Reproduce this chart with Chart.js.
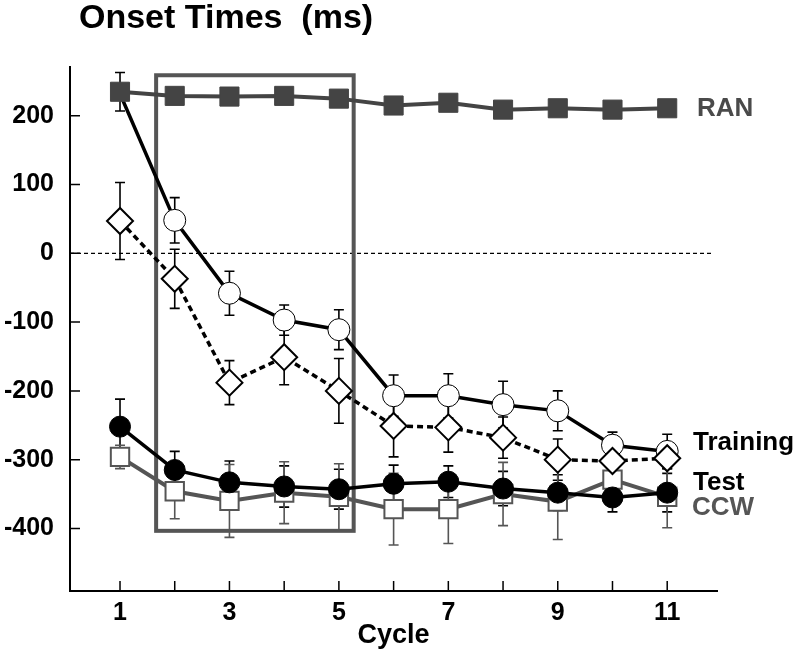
<!DOCTYPE html>
<html>
<head>
<meta charset="utf-8">
<script src="https://cdn.jsdelivr.net/npm/chart.js@4.4.0/dist/chart.umd.min.js"></script>
<style>
  body { margin: 0; background: #fff; }
  #wrap { width: 802px; height: 653px; }
</style>
</head>
<body>
<div id="wrap"><canvas id="onsetChart"></canvas></div>
<script>
Chart.defaults.font.family = "'Liberation Sans', Arial, sans-serif";
Chart.defaults.color = "#000";

const cycles = [1, 2, 3, 4, 5, 6, 7, 8, 9, 10, 11];
const yTicks = [-400, -300, -200, -100, 0, 100, 200];

const ran = [235, 229, 228, 229, 225, 215, 219, 209, 211, 209, 211];
const ranErr = [28, 0, 0, 0, 0, 0, 0, 0, 0, 0, 0];
const training = [232, 48, -58, -97, -111, -207, -207, -220, -229, -279, -288];
const trainingErr = [0, 33, 32, 22, 29, 30, 32, 34, 29, 19, 25];
const trainingB = [47, -37, -188, -151, -200, -251, -253, -268, -300, -302, -298];
const trainingBErr = [56, 43, 32, 40, 47, 45, 36, 30, 30, 12, 15];
const test = [-252, -315, -333, -339, -343, -335, -332, -342, -348, -355, -348];
const testErr = [40, 27, 31, 30, 29, 27, 23, 25, 26, 21, 28];
const ccw = [-296, -346, -360, -348, -354, -372, -372, -350, -361, -329, -354];
const ccwErr = [17, 40, 53, 45, 48, 52, 50, 46, 55, 22, 45];

// highlighted block of cycles (data units)
const boxX = [1.66, 5.27];
const boxY = [-403.5, 259];

function pts(arr) {
    return cycles.map((c, i) => ({x: c, y: arr[i]}));
}

const extras = {
    id: "extras",
    beforeDatasetsDraw(chart) {
        const ctx = chart.ctx;
        const xs = chart.scales.x, ys = chart.scales.y;
        const area = chart.chartArea;
        ctx.save();

        // zero line
        ctx.strokeStyle = "#000";
        ctx.lineWidth = 1.2;
        ctx.setLineDash([4, 3]);
        ctx.beginPath();
        ctx.moveTo(area.left, ys.getPixelForValue(0));
        ctx.lineTo(area.right - 4, ys.getPixelForValue(0));
        ctx.stroke();
        ctx.setLineDash([]);

        // box
        ctx.strokeStyle = "#555";
        ctx.lineWidth = 4;
        const bl = xs.getPixelForValue(boxX[0]), br = xs.getPixelForValue(boxX[1]);
        const bt = ys.getPixelForValue(boxY[1]), bb = ys.getPixelForValue(boxY[0]);
        ctx.strokeRect(bl, bt, br - bl, bb - bt);

        // error bars
        chart.data.datasets.forEach(ds => {
            if (!ds.err) return;
            ctx.strokeStyle = ds.errColor;
            ctx.lineWidth = 1.6;
            ds.data.forEach((p, i) => {
                const e = ds.err[i];
                if (!e) return;
                const px = xs.getPixelForValue(p.x);
                const top = ys.getPixelForValue(p.y + e);
                const bot = ys.getPixelForValue(p.y - e);
                ctx.beginPath();
                ctx.moveTo(px, top); ctx.lineTo(px, bot);
                ctx.moveTo(px - 5, top); ctx.lineTo(px + 5, top);
                ctx.moveTo(px - 5, bot); ctx.lineTo(px + 5, bot);
                ctx.stroke();
            });
        });
        ctx.restore();
    },
    afterDraw(chart) {
        const ctx = chart.ctx;
        const xs = chart.scales.x, ys = chart.scales.y;
        const area = chart.chartArea;
        ctx.save();

        // inward ticks
        ctx.strokeStyle = "#000";
        ctx.lineWidth = 1.5;
        ctx.beginPath();
        cycles.forEach(c => {
            const px = xs.getPixelForValue(c);
            ctx.moveTo(px, area.bottom);
            ctx.lineTo(px, area.bottom - 10);
        });
        yTicks.forEach(v => {
            const py = ys.getPixelForValue(v);
            ctx.moveTo(area.left, py);
            ctx.lineTo(area.left + 10, py);
        });
        ctx.stroke();

        // title
        ctx.fillStyle = "#000";
        ctx.textBaseline = "middle";
        ctx.textAlign = "left";
        ctx.font = "bold 34px 'Liberation Sans', Arial, sans-serif";
        ctx.fillText("Onset Times  (ms)", 79, 19);

        // series labels
        ctx.font = "bold 26px 'Liberation Sans', Arial, sans-serif";
        ctx.fillStyle = "#4a4a4a";
        ctx.fillText("RAN", 697, 109);
        ctx.fillStyle = "#000";
        ctx.fillText("Training", 693, 443);
        ctx.fillText("Test", 693, 483);
        ctx.fillStyle = "#555";
        ctx.fillText("CCW", 692, 508);
        ctx.restore();
    }
};

new Chart(document.getElementById("onsetChart"), {
    type: "line",
    data: {
        datasets: [
            {
                label: "RAN",
                data: pts(ran),
                err: ranErr,
                errColor: "#000",
                borderColor: "#444",
                borderWidth: 4,
                pointStyle: "rect",
                pointRadius: 13.5,
                pointBackgroundColor: "#444",
                pointBorderColor: "#444",
                pointBorderWidth: 1
            },
            {
                label: "Training B",
                data: pts(trainingB),
                err: trainingBErr,
                errColor: "#000",
                borderColor: "#000",
                borderWidth: 3.5,
                borderDash: [6, 4],
                pointStyle: "rectRot",
                pointRadius: 13,
                pointBackgroundColor: "#fff",
                pointBorderColor: "#000",
                pointBorderWidth: 2
            },
            {
                label: "Training",
                data: pts(training),
                err: trainingErr,
                errColor: "#000",
                borderColor: "#000",
                borderWidth: 3.5,
                pointStyle: "circle",
                pointRadius: [0, 11, 11, 11, 11, 11, 11, 11, 11, 11, 11],
                pointBackgroundColor: "#fff",
                pointBorderColor: "#000",
                pointBorderWidth: 1
            },
            {
                label: "Test",
                data: pts(test),
                err: testErr,
                errColor: "#000",
                borderColor: "#000",
                borderWidth: 3.5,
                pointStyle: "circle",
                pointRadius: 10.5,
                pointBackgroundColor: "#000",
                pointBorderColor: "#000",
                pointBorderWidth: 1
            },
            {
                label: "CCW",
                data: pts(ccw),
                err: ccwErr,
                errColor: "#555",
                borderColor: "#555",
                borderWidth: 4,
                pointStyle: "rect",
                pointRadius: 13,
                pointBackgroundColor: "#fff",
                pointBorderColor: "#555",
                pointBorderWidth: 2
            }
        ]
    },
    options: {
        responsive: true,
        maintainAspectRatio: false,
        animation: false,
        layout: {
            padding: {top: 67, right: 85, left: 0, bottom: 0}
        },
        scales: {
            x: {
                type: "linear",
                min: 0.086,
                max: 11.91,
                grid: {display: false, drawTicks: false},
                border: {display: true, color: "#000", width: 2},
                afterBuildTicks: scale => {
                    scale.ticks = cycles.map(c => ({value: c}));
                },
                afterFit: scale => { scale.height = 62; },
                ticks: {
                    autoSkip: false,
                    maxRotation: 0,
                    padding: 7,
                    font: {size: 25, weight: "bold"},
                    callback: v => (v % 2 === 1 ? String(v) : "")
                },
                title: {
                    display: true,
                    text: "Cycle",
                    font: {size: 27, weight: "bold"},
                    padding: {top: 0, bottom: 1}
                }
            },
            y: {
                min: -491,
                max: 271,
                grid: {display: false, drawTicks: false},
                border: {display: true, color: "#000", width: 2},
                afterBuildTicks: scale => {
                    scale.ticks = yTicks.map(v => ({value: v}));
                },
                afterFit: scale => { scale.width = 70; },
                ticks: {
                    padding: 16,
                    font: {size: 25, weight: "bold"},
                    callback: v => String(v)
                }
            }
        },
        plugins: {
            legend: {display: false},
            tooltip: {enabled: false}
        }
    },
    plugins: [extras]
});
</script>
</body>
</html>
